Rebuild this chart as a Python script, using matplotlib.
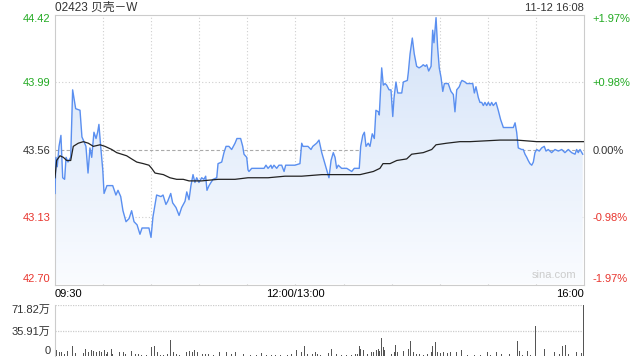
import numpy as np
import matplotlib
matplotlib.use('Agg')
import matplotlib.pyplot as plt

plt.rcParams['font.family'] = ['Liberation Sans', 'Noto Sans CJK SC', 'DejaVu Sans']

# minutes since 09:30 (trading time, lunch removed) and price
price_min = [0, 0.6, 1.4, 2.5, 3.7, 4.8, 6, 6.9, 8.1, 9.8, 11, 12.9, 15.6, 16.8, 18.1, 19.3, 20.6,
             21.8, 22.9, 24.3, 25.6, 26.6, 27.4, 28.5, 29.8, 30.6, 32.4, 36, 38, 39.3, 41, 42.4,
             44.3, 46.2, 47.8, 49.3, 51.2, 53, 54.3, 58.6, 59.9, 61.1, 63.4, 66.1, 67.4, 69.2,
             70.3, 72.2, 73.4, 75.5, 77.4, 79, 81.1, 82.2, 83.6, 84.8, 86.1, 87.3, 88.4, 89.8,
             91.5, 92.9, 94, 94.8, 96.1, 97.3, 98.6, 100.9, 101.7, 104, 105.4, 106.7, 108.5,
             110.2, 112.3, 113.5, 115.8, 117.1, 117.9, 119.6, 120.4, 121, 122.7, 130.4, 131.6,
             132.9, 134.7, 135.4, 136.6, 138.3, 139.7, 141.4, 142.9, 143.9, 149.7, 152.8, 153.9,
             154.7, 157.8, 159.7, 160.8, 163.2, 164.7, 166.4, 167.8, 169.5, 170.9, 172.2, 173.6,
             174.7, 175.7, 176.7, 178.8, 182, 183.6, 185.1, 186.7, 189.8, 190.7, 192, 193, 194,
             195.4, 196.5, 197.9, 199.2, 200.2, 201.7, 202.3, 203.8, 204.8, 205.9, 206.9, 208.4,
             209.6, 210.7, 211.5, 212.7, 213.8, 216.3, 217.3, 219.8, 220.4, 221.5, 222.9, 224.1,
             225.6, 227.1, 228.7, 229.7, 231, 231.9, 233.1, 234.6, 235.6, 236.4, 237.7, 238.7,
             239.7, 240.8, 241.9, 242.9, 245.3, 247, 248.5, 249.5, 250.6, 252.2, 253.3, 253.9,
             255.8, 256.8, 260.6, 261.6, 262.6, 264.1, 265.1, 266.2, 267.2, 268.2, 269.3, 270.3,
             271.4, 272.4, 273.4, 275.1, 276.5, 278, 279.7, 281.8, 285.9, 287, 288, 289, 291.1,
             292.1, 293.2, 294.3, 295.2, 296.3, 297.4, 298.4, 299.4, 300.5, 302.1, 303.6, 305.2,
             306.3, 307.7, 309.8, 311.9, 314, 316.1, 318.1, 320.2, 322.3, 324.4, 325.4, 326.4,
             327.5, 329.2]
price = [43.28, 43.51, 43.45, 43.58, 43.65, 43.38, 43.37, 43.51, 43.48, 43.51, 43.94, 43.82, 43.81,
         43.64, 43.61, 43.58, 43.41, 43.57, 43.51, 43.67, 43.63, 43.67, 43.72, 43.58, 43.43, 43.28,
         43.33, 43.33, 43.27, 43.30, 43.26, 43.17, 43.10, 43.12, 43.17, 43.10, 43.08, 43.02, 43.06,
         43.06, 43.00, 43.13, 43.27, 43.26, 43.27, 43.21, 43.23, 43.28, 43.22, 43.19, 43.14, 43.19,
         43.23, 43.29, 43.24, 43.33, 43.40, 43.35, 43.38, 43.35, 43.38, 43.37, 43.39, 43.30, 43.33,
         43.35, 43.37, 43.38, 43.47, 43.48, 43.54, 43.58, 43.58, 43.56, 43.60, 43.63, 43.63, 43.58,
         43.53, 43.51, 43.43, 43.42, 43.44, 43.44, 43.46, 43.44, 43.46, 43.44, 43.46, 43.44, 43.46,
         43.46, 43.42, 43.46, 43.46, 43.47, 43.60, 43.58, 43.58, 43.56, 43.58, 43.60, 43.62, 43.54,
         43.49, 43.43, 43.38, 43.49, 43.54, 43.51, 43.44, 43.46, 43.44, 43.44, 43.43, 43.42, 43.44,
         43.44, 43.58, 43.65, 43.67, 43.58, 43.60, 43.58, 43.66, 43.63, 43.81, 43.80, 43.78, 44.08,
         43.97, 43.98, 43.97, 43.94, 43.94, 43.77, 43.89, 43.99, 43.92, 43.92, 43.99, 44.00, 44.05,
         44.17, 44.27, 44.17, 44.09, 44.08, 44.09, 44.10, 44.09, 44.10, 44.06, 44.09, 44.32, 44.24,
         44.40, 44.21, 44.08, 44.02, 43.93, 43.98, 43.98, 43.93, 43.91, 43.80, 43.94, 43.96, 43.99,
         44.00, 43.99, 43.98, 43.98, 43.92, 43.96, 43.89, 43.86, 43.86, 43.84, 43.86, 43.84, 43.86,
         43.84, 43.86, 43.84, 43.86, 43.81, 43.75, 43.70, 43.70, 43.70, 43.73, 43.67, 43.57, 43.56,
         43.56, 43.53, 43.51, 43.49, 43.47, 43.46, 43.48, 43.54, 43.56, 43.55, 43.57, 43.58, 43.55,
         43.56, 43.54, 43.56, 43.55, 43.56, 43.54, 43.56, 43.54, 43.53, 43.56, 43.54, 43.56, 43.53]

avg_min = [0, 1, 3.1, 5.2, 7.3, 9.8, 11.4, 14.5, 17.7, 20.8, 23.9, 28.1, 31.2, 35.4, 38.5, 41.6,
           44.7, 47.8, 51, 55.1, 58.6, 60.3, 62.4, 67.6, 71.7, 75.9, 80, 83.6, 91.5, 101.7, 112.3,
           120.4, 132.9, 143.5, 153.9, 166.4, 190.3, 198.6, 202.7, 204.6, 209, 213.2, 219.4, 222.5,
           229.7, 235, 237.7, 244.3, 252.6, 258.9, 277.6, 288, 300.5, 315, 329.6]
avg_price = [43.38, 43.49, 43.52, 43.51, 43.49, 43.49, 43.58, 43.60, 43.61, 43.60, 43.58, 43.59,
             43.58, 43.56, 43.54, 43.53, 43.52, 43.50, 43.48, 43.47, 43.46, 43.44, 43.41, 43.40,
             43.38, 43.37, 43.37, 43.36, 43.36, 43.37, 43.37, 43.38, 43.38, 43.39, 43.39, 43.40,
             43.40, 43.42, 43.44, 43.47, 43.47, 43.49, 43.50, 43.53, 43.54, 43.56, 43.59, 43.60,
             43.61, 43.61, 43.62, 43.62, 43.61, 43.61, 43.61]

# volume, in 万
vol_min = [1, 3, 4, 6, 8, 10, 11, 13, 15, 18, 19, 21, 23, 24, 26, 28, 29, 31, 32, 33, 35, 36, 40,
           43, 44, 48, 50, 52, 54, 57, 60, 62, 64, 66, 68, 70, 72, 74, 76, 78, 82, 84, 86, 87, 89,
           92, 94, 96, 99, 103, 107, 110, 113, 118, 122, 126, 129, 132, 135, 138, 141, 145, 148,
           151, 154, 156, 158, 161, 163, 164, 166, 171, 173, 176, 179, 182, 185, 188, 189, 190, 191,
           193, 195, 198, 199, 201, 202, 203, 204, 205, 206, 210, 212, 213, 214, 218, 221, 222, 224,
           226, 228, 230, 233, 235, 236, 238, 239, 241, 243, 245, 247, 251, 254, 258, 262, 266, 270,
           272, 276, 279, 284, 289, 290, 292, 295, 297, 300, 303, 306, 308, 312, 313, 315, 317, 319,
           321, 326, 329, 330]
vol_wan = [8, 5, 5, 3, 7, 7, 14, 4, 5, 4, 9.6, 6, 8.6, 7, 5, 7, 6, 8, 3, 5, 9.6, 3, 6,
           6, 3, 7, 3, 3, 2, 2, 12, 13.4, 5, 2, 2, 3, 23, 6, 3, 2, 5, 7, 6, 8.6, 5,
           3, 3, 3, 2, 5, 6, 3, 5, 3, 2, 2, 4, 2, 2, 1.5, 2, 2, 3,
           8, 6, 13.4, 3, 3, 5, 3, 2, 4, 10.5, 3, 2, 2, 2, 3, 3, 14, 10.5,
           8, 3, 6, 6, 8, 9.6, 7, 26, 12, 8.6, 3, 5, 16, 5, 7, 9.6, 20.6, 5,
           3, 3, 2, 3, 5, 13.4, 20, 5, 4, 5, 4, 6, 6, 8.6, 2, 2, 2, 5,
           2, 5, 3, 3, 20.6, 7, 2, 7, 2, 41.6, 32, 10.5, 2, 6, 6, 3, 13.4, 15,
           3, 5, 4, 71.82]

y_ticks = [42.70, 43.13, 43.56, 43.99, 44.42]
pct_labels = ['-1.97%', '-0.98%', '0.00%', '+0.98%', '+1.97%']
tick_colors = ['#e8352e', '#e8352e', '#333333', '#22aa22', '#22aa22']
x_ticks = [0, 150, 330]
x_labels = ['09:30', '12:00/13:00', '16:00']
vol_ticks = [0, 35.91, 71.82]
vol_labels = ['0', '35.91万', '71.82万']

fig = plt.figure(figsize=(6.4, 3.6), dpi=100)
ax = fig.add_axes([55/640, 1-284.5/360, 529/640, 270/360])
axv = fig.add_axes([55/640, 1-356/360, 529/640, 51/360])

ax.set_xlim(0, 330)
ax.set_ylim(42.70, 44.42)

# gradient fill under the price line
poly = ax.fill_between(price_min, price, 42.70, facecolor='none', edgecolor='none')
grad = np.linspace(0, 1, 256).reshape(-1, 1)
cmap = matplotlib.colors.LinearSegmentedColormap.from_list('g', ['#fafcff', '#d3e2f8'])
img = ax.imshow(grad, cmap=cmap, aspect='auto', origin='lower',
                extent=[0, 330, 42.70, 44.42], zorder=1)
img.set_clip_path(poly.get_paths()[0], transform=ax.transData)

ax.plot(price_min, price, color='#5a8ff0', lw=1.0, zorder=3)
ax.plot(avg_min, avg_price, color='#222222', lw=0.9, zorder=3)

for m in range(30, 330, 30):
    ax.axvline(m, color='#cfcfcf', lw=0.8, ls=(0, (1, 2)), zorder=0)
for v in [43.13, 43.99]:
    ax.axhline(v, color='#cfcfcf', lw=0.8, ls=(0, (1, 2)), zorder=0)
ax.axhline(43.56, color='#aaaaaa', lw=0.8, ls=(0, (3, 2)), zorder=0)

for s in ax.spines.values():
    s.set_color('#cccccc')
ax.tick_params(length=0, labelsize=8, pad=3)
ax.set_yticks(y_ticks)
ax.set_yticklabels(['%.2f' % v for v in y_ticks])
for lab, c in zip(ax.get_yticklabels(), tick_colors):
    lab.set_color(c)
ax.get_yticklabels()[0].set_va('bottom')
ax.get_yticklabels()[-1].set_va('top')
ax.set_xticks(x_ticks)
ax.set_xticklabels(x_labels)
ax.get_xticklabels()[0].set_ha('left')
ax.get_xticklabels()[-1].set_ha('right')

ax2 = ax.twinx()
ax2.set_ylim(42.70, 44.42)
ax2.set_yticks(y_ticks)
ax2.set_yticklabels(pct_labels)
ax2.tick_params(length=0, labelsize=8, pad=6)
for lab, c in zip(ax2.get_yticklabels(), tick_colors):
    lab.set_color(c)
ax2.get_yticklabels()[0].set_va('bottom')
ax2.get_yticklabels()[-1].set_va('top')
for s in ax2.spines.values():
    s.set_visible(False)

ax.text(0.985, 0.015, 'sina.com', transform=ax.transAxes, ha='right', va='bottom',
        fontsize=8, color='#cccccc')

# volume
axv.bar(vol_min, vol_wan, width=0.6, color='#555555')
axv.set_xlim(0, 330.5)
axv.set_ylim(0, 71.82)
axv.set_xticks([])
axv.set_yticks(vol_ticks)
axv.set_yticklabels(vol_labels)
axv.get_yticklabels()[0].set_va('bottom')
axv.get_yticklabels()[-1].set_va('top')
axv.tick_params(length=0, labelsize=8, pad=3, colors='#333333')
for v in [35.91, 71.82]:
    axv.axhline(v, color='#cccccc', lw=0.9, ls=(0, (1, 1)), zorder=0)
for k in ['top', 'right', 'bottom']:
    axv.spines[k].set_visible(False)
axv.spines['left'].set_color('#cccccc')

fig.text(55/640, 1-8/360, '02423 贝壳－W', fontsize=8.5, color='#333333', va='center', ha='left')
fig.text(584/640, 1-8/360, '11-12 16:08', fontsize=8, color='#333333', va='center', ha='right')

fig.savefig('out.png', dpi=100)
